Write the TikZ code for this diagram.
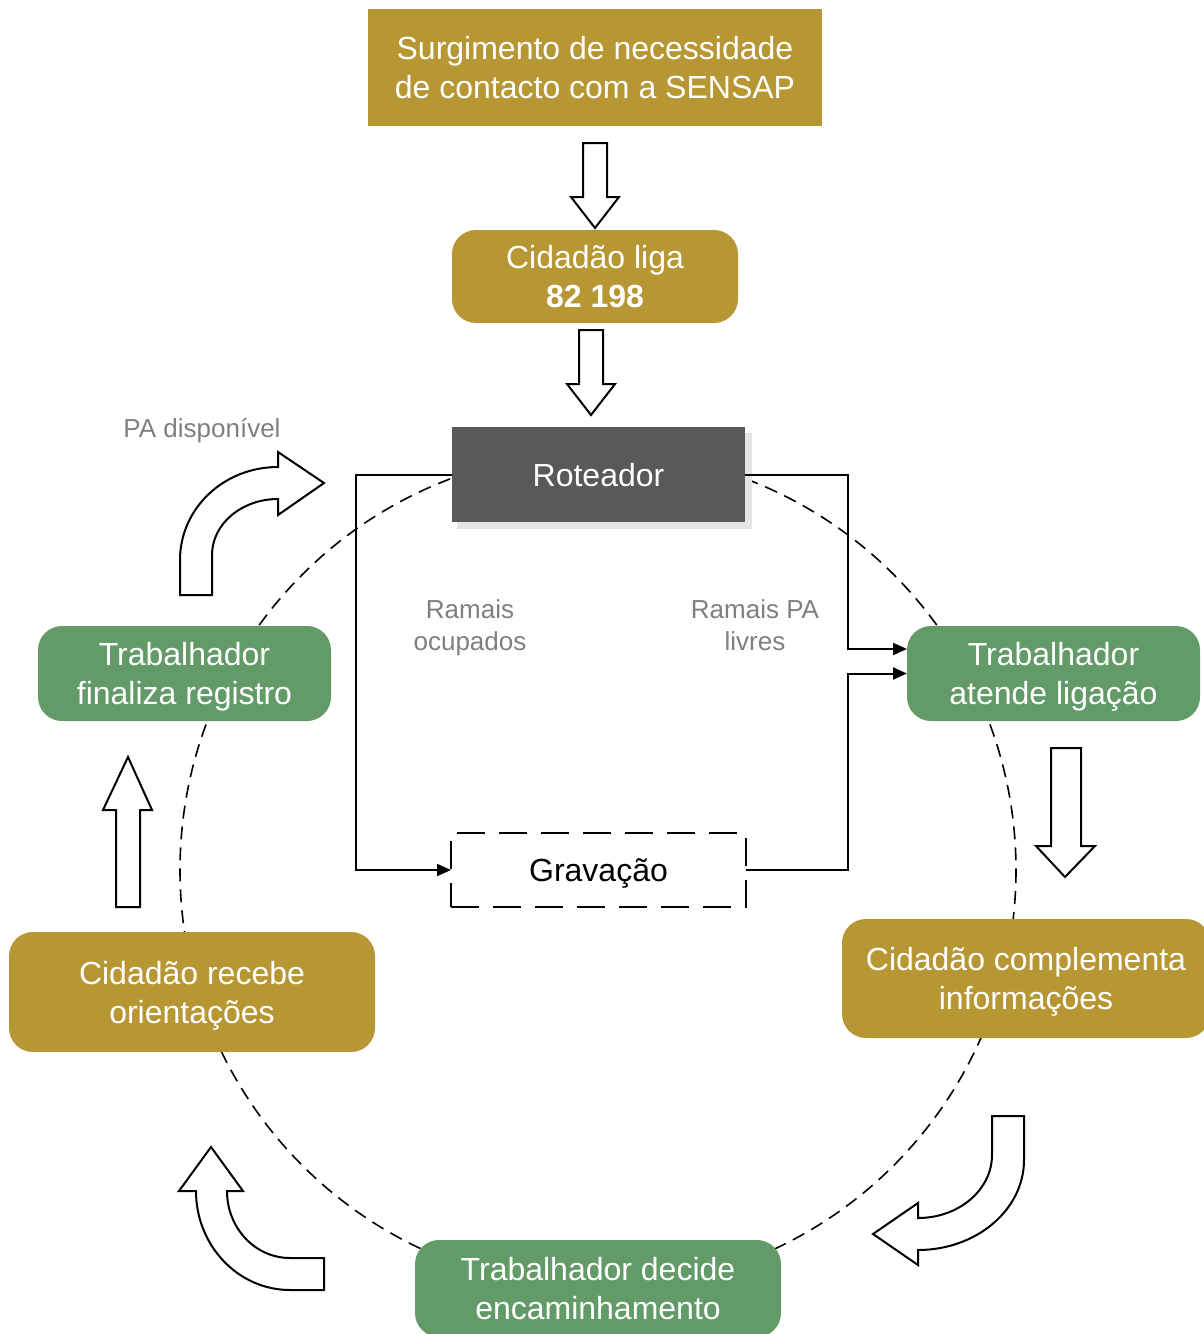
\documentclass[tikz,border=0pt]{standalone}
\usepackage{fontspec}
\setmainfont{Liberation Sans}
\usetikzlibrary{arrows.meta,calc}
\definecolor{gold}{HTML}{B79634}
\definecolor{leaf}{HTML}{639B68}
\definecolor{router}{HTML}{595959}
\definecolor{note}{HTML}{7F7F7F}
% lines centred on their capital height, so descenders do not shift the text
\newcommand{\twolines}[3][23pt]{\rule{0pt}{#1}\smash{#2}\\\smash{#3}}
\newcommand{\oneline}[2][23pt]{\rule{0pt}{#1}\smash{#2}}
\begin{document}
\begin{tikzpicture}[x=1pt,y=-1pt,
  box/.style={inner sep=0pt,outer sep=0pt,align=center,text=white,
    font=\fontsize{32}{39}\selectfont},
  goldbox/.style={box,fill=gold},
  leafbox/.style={box,fill=leaf,rounded corners=24pt},
  notelabel/.style={inner sep=0pt,align=center,text=note,
    font=\fontsize{26}{32}\selectfont},
  conn/.style={line width=2pt,-{Triangle[length=14pt,width=12pt]}},
  blockarrow/.style={draw=black,fill=white,line width=2pt,line join=miter},
  ring/.style={line width=1.6pt,dash pattern=on 13pt off 8pt}]
\useasboundingbox (0,0) rectangle (1203,1334);

% cycle ring behind the steps
\draw[ring] (598,870) circle[radius=418];

% steps
\node[goldbox,minimum width=454pt,minimum height=117pt] (need) at (595,67.5)
  {\twolines{Surgimento de necessidade}{de contacto com a SENSAP}};
\node[goldbox,rounded corners=24pt,minimum width=286pt,minimum height=93pt] (call) at (595,276.5)
  {\twolines{Cidadão liga}{\textbf{82 198}}};
\fill[black!10] (457,433) rectangle (752,529);
\node[box,fill=router,minimum width=293pt,minimum height=95pt] (rot) at (598.5,474.5) {\oneline{Roteador}};
\node[leafbox,minimum width=293pt,minimum height=95pt] (attend) at (1053.5,673.5)
  {\twolines{Trabalhador}{atende ligação}};
\node[goldbox,rounded corners=24pt,minimum width=368pt,minimum height=119pt] (info) at (1026,978.5)
  {\twolines{Cidadão complementa}{informações}};
\node[leafbox,minimum width=366pt,minimum height=97pt] (route) at (598,1288.5)
  {\twolines{Trabalhador decide}{encaminhamento}};
\node[goldbox,rounded corners=24pt,minimum width=366pt,minimum height=120pt] (guide) at (192,992)
  {\twolines{Cidadão recebe}{orientações}};
\node[leafbox,minimum width=293pt,minimum height=95pt] (close) at (184.5,673.5)
  {\twolines{Trabalhador}{finaliza registro}};
\node[inner sep=0pt,outer sep=0pt,draw,line width=2pt,dash pattern=on 28pt off 14pt,
  minimum width=295pt,minimum height=74pt,font=\fontsize{32}{39}\selectfont] (rec) at (598.5,870)
  {\oneline{Gravação}};

% labels
\node[notelabel] (lblfree) at (202,428) {\oneline[18.6pt]{PA disponível}};
\node[notelabel] (lblbusy) at (470,625) {\twolines[18.6pt]{Ramais}{ocupados}};
\node[notelabel] (lblpa) at (755,625) {\twolines[18.6pt]{Ramais PA}{livres}};

% routing connectors
\coordinate (lx) at (356,0);
\coordinate (rx) at (848,0);
\draw[conn] (rot.west) -- (rot.west -| lx) |- (rec.west);
\draw[conn] (rot.east) -- (rot.east -| rx) |- ([yshift=24.5pt]attend.west);
\draw[conn] (rec.east) -- (rec.east -| rx) |- (attend.west);

% straight block arrows
\draw[blockarrow] (583,143) -- (607,143) -- (607,197) -- (619,197) -- (595,228)
  -- (571,197) -- (583,197) -- cycle;
\draw[blockarrow] (579,330) -- (603,330) -- (603,384) -- (615,384) -- (591,415)
  -- (567,384) -- (579,384) -- cycle;
\draw[blockarrow] (1051,748) -- (1081,748) -- (1081,846) -- (1095,846) -- (1065,877)
  -- (1036,846) -- (1051,846) -- cycle;
\draw[blockarrow] (116,907) -- (140,907) -- (140,810) -- (152,810) -- (128,757)
  -- (103,810) -- (116,810) -- cycle;

% curved block arrows
\draw[blockarrow] (180,595) -- (180,560)
  .. controls (180,508.7) and (223.4,467) .. (278,467)
  -- (278,452) -- (324,483) -- (278,515) -- (278,499)
  .. controls (241.6,499) and (212,524) .. (212,555)
  -- (212,595) -- cycle;
\draw[blockarrow] (992,1116) -- (1024,1116) -- (1024,1160)
  .. controls (1024,1209.7) and (976.5,1250) .. (918,1250)
  -- (918,1265) -- (873,1234) -- (918,1203) -- (918,1218)
  .. controls (958.8,1218) and (992,1189.8) .. (992,1155) -- cycle;
\draw[blockarrow] (211,1147) -- (243,1191) -- (227,1191)
  .. controls (227,1228) and (255.2,1258) .. (290,1258)
  -- (324,1258) -- (324,1290) -- (290,1290)
  .. controls (238.1,1290) and (196,1245.6) .. (196,1191)
  -- (179,1191) -- cycle;
\end{tikzpicture}
\end{document}
